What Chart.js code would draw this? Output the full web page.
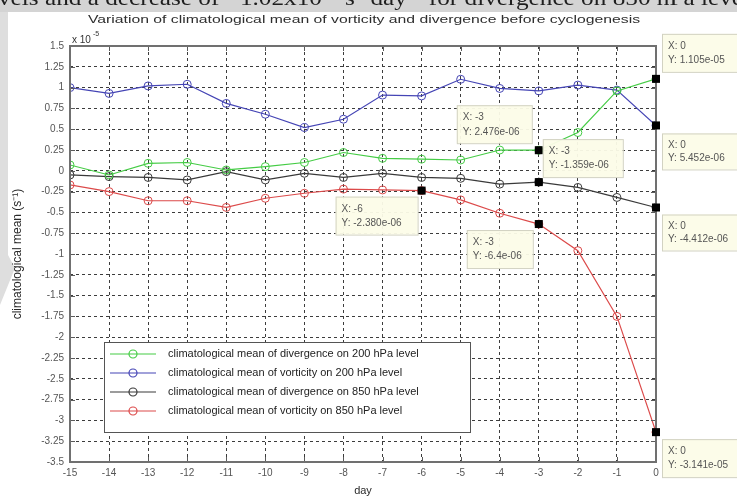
<!DOCTYPE html>
<html>
<head>
<meta charset="utf-8">
<script src="https://cdn.jsdelivr.net/npm/chart.js@4/dist/chart.umd.min.js"></script>
<style>
  html, body { margin: 0; padding: 0; background: #ffffff; }
  canvas { display: block; filter: blur(0.45px); }
</style>
</head>
<body>
<canvas id="chart" width="737" height="500"></canvas>
<script>
// Days before cyclogenesis (day 0 = genesis)
const days = [-15, -14, -13, -12, -11, -10, -9, -8, -7, -6, -5, -4, -3, -2, -1, 0];

// Climatological means, in units of 1e-5 s^-1
const div200  = [0.07, -0.05, 0.09, 0.10, 0.01, 0.05, 0.10, 0.22, 0.15, 0.14, 0.13, 0.25, 0.2476, 0.46, 0.96, 1.105];
const vort200 = [1.00, 0.93, 1.02, 1.04, 0.81, 0.68, 0.52, 0.62, 0.91, 0.90, 1.10, 0.99, 0.96, 1.03, 0.97, 0.5452];
const div850  = [-0.05, -0.07, -0.08, -0.11, -0.01, -0.11, -0.03, -0.08, -0.03, -0.08, -0.09, -0.16, -0.1359, -0.20, -0.32, -0.4412];
const vort850 = [-0.17, -0.25, -0.36, -0.36, -0.44, -0.33, -0.27, -0.22, -0.23, -0.238, -0.35, -0.51, -0.64, -0.96, -1.75, -3.141];

const seriesLabels = [
  'climatological mean of divergence on 200 hPa level',
  'climatological mean of vorticity on 200 hPa level',
  'climatological mean of divergence on 850 hPa level',
  'climatological mean of vorticity on 850 hPa level'
];

const yTickValues = [1.5, 1.25, 1, 0.75, 0.5, 0.25, 0, -0.25, -0.5, -0.75, -1, -1.25, -1.5, -1.75, -2, -2.25, -2.5, -2.75, -3, -3.25, -3.5];

// Data cursors: series index, day, decimals shown
const dataTips = [
  { series: 0, day: 0,  digits: 3 },
  { series: 1, day: 0,  digits: 3 },
  { series: 2, day: 0,  digits: 3 },
  { series: 3, day: 0,  digits: 3 },
  { series: 0, day: -3, digits: 3 },
  { series: 2, day: -3, digits: 3 },
  { series: 3, day: -6, digits: 3 },
  { series: 3, day: -3, digits: 1 }
];

const seriesValues = [div200, vort200, div850, vort850];
const seriesColors = ['#45cc45', '#4545b5', '#3a3a3a', '#dc4a4a'];

// Where each cursor box sits relative to its marked point
const tipBoxOffsets = [
  { dx: 6,   dy: -45, w: 80, h: 38 },
  { dx: 6,   dy: 8,   w: 80, h: 36 },
  { dx: 6,   dy: 7,   w: 80, h: 36 },
  { dx: 6,   dy: 7,   w: 80, h: 38 },
  { dx: -82, dy: -45, w: 75, h: 38 },
  { dx: 4,   dy: -43, w: 80, h: 38 },
  { dx: -86, dy: 6,   w: 82, h: 38 },
  { dx: -72, dy: 6,   w: 66, h: 38 }
];

function sciText(v, digits) {
  const s = (v * 1e-5).toExponential(digits);
  const m = s.match(/^(-?[\d.]+)e([+-])(\d+)$/);
  const exp = m[3].length < 2 ? '0' + m[3] : m[3];
  return m[1] + 'e' + m[2] + exp;
}

const FONT = '"Liberation Sans", Arial, sans-serif';

const pageDecor = {
  id: 'pageDecor',
  beforeDraw(chart) {
    const ctx = chart.ctx;
    ctx.save();
    ctx.fillStyle = '#ffffff';
    ctx.fillRect(0, 0, chart.width, chart.height);
    // grey band with running text from the page above
    ctx.fillStyle = '#d4d4d4';
    ctx.fillRect(0, 0, chart.width, 12);
    ctx.beginPath();
    ctx.moveTo(0, 12); ctx.lineTo(8, 12); ctx.lineTo(8, 255); ctx.lineTo(15, 268); ctx.lineTo(0, 305);
    ctx.closePath();
    ctx.fillStyle = '#dedede';
    ctx.fill();
    ctx.fillStyle = '#1e1e1e';
    ctx.font = '22px "Liberation Serif", "Times New Roman", serif';
    ctx.textBaseline = 'alphabetic';
    const runText = 'vels and a decrease of \u22121.02x10\u207B\u2076 s\u207B\u00B9day\u207B\u00B9 for divergence on 850 hPa leve';
    const w = ctx.measureText(runText).width;
    ctx.translate(-2, 5);
    ctx.scale(745 / w, 1);
    ctx.fillText(runText, 0, 0);
    ctx.restore();
  },
  afterDraw(chart) {
    const ctx = chart.ctx;
    const a = chart.chartArea;
    ctx.save();
    // title
    ctx.fillStyle = '#2e2e2e';
    ctx.font = '11px ' + FONT;
    ctx.textAlign = 'center';
    ctx.textBaseline = 'middle';
    const title = 'Variation of climatological mean of vorticity and divergence before cyclogenesis';
    const tw = ctx.measureText(title).width;
    ctx.save();
    ctx.translate(364, 20);
    ctx.scale(552 / tw, 1);
    ctx.fillText(title, 0, 0);
    ctx.restore();
    // exponent label
    ctx.textAlign = 'left';
    ctx.textBaseline = 'alphabetic';
    ctx.font = '10px ' + FONT;
    ctx.fillStyle = '#333';
    ctx.fillText('x 10', a.left + 2, a.top - 3);
    ctx.font = '7px ' + FONT;
    ctx.fillText('-5', a.left + 23, a.top - 10);
    // axis titles
    ctx.font = '11px ' + FONT;
    ctx.fillStyle = '#2a2a2a';
    ctx.textAlign = 'center';
    ctx.textBaseline = 'middle';
    ctx.fillText('day', (a.left + a.right) / 2, 491);
    ctx.font = '12px ' + FONT;
    ctx.save();
    ctx.translate(18, (a.top + a.bottom) / 2);
    ctx.rotate(-Math.PI / 2);
    ctx.fillText('climatological mean (s\u207B\u00B9)', 0, 0);
    ctx.restore();
    ctx.restore();
  }
};

const axesFrame = {
  id: 'axesFrame',
  afterDatasetsDraw(chart) {
    const ctx = chart.ctx;
    const a = chart.chartArea;
    const xs = chart.scales.x, ys = chart.scales.y;
    ctx.save();
    ctx.strokeStyle = '#5a5a5a';
    ctx.lineWidth = 1;
    ctx.beginPath();
    xs.ticks.forEach(t => {
      const px = Math.round(xs.getPixelForValue(t.value)) + 0.5;
      ctx.moveTo(px, a.bottom); ctx.lineTo(px, a.bottom - 5);
      ctx.moveTo(px, a.top); ctx.lineTo(px, a.top + 5);
    });
    ys.ticks.forEach(t => {
      const py = Math.round(ys.getPixelForValue(t.value)) + 0.5;
      ctx.moveTo(a.left, py); ctx.lineTo(a.left + 5, py);
      ctx.moveTo(a.right, py); ctx.lineTo(a.right - 5, py);
    });
    ctx.stroke();
    ctx.lineWidth = 2;
    ctx.strokeStyle = '#707070';
    ctx.strokeRect(a.left, a.top, a.right - a.left, a.bottom - a.top);

    // data cursors
    dataTips.forEach((tip, i) => {
      const idx = days.indexOf(tip.day);
      const v = seriesValues[tip.series][idx];
      const px = xs.getPixelForValue(tip.day);
      const py = ys.getPixelForValue(v);
      const o = tipBoxOffsets[i];
      const bx = px + o.dx, by = py + o.dy;
      ctx.fillStyle = 'rgba(252,252,232,0.95)';
      ctx.fillRect(bx, by, o.w, o.h);
      ctx.strokeStyle = '#d2d2c2';
      ctx.lineWidth = 1;
      ctx.strokeRect(bx + 0.5, by + 0.5, o.w, o.h);
      ctx.fillStyle = '#555';
      ctx.font = '10px ' + FONT;
      ctx.textAlign = 'left';
      ctx.textBaseline = 'middle';
      ctx.fillText('X: ' + tip.day, bx + 6, by + o.h * 0.32);
      ctx.fillText('Y: ' + sciText(v, tip.digits), bx + 6, by + o.h * 0.7);
      ctx.fillStyle = '#000';
      ctx.fillRect(px - 4, py - 4, 8, 8);
    });

    // legend
    const lx = 104, ly = 342, lw = 366, lh = 90;
    ctx.fillStyle = '#ffffff';
    ctx.fillRect(lx, ly, lw, lh);
    ctx.strokeStyle = '#555';
    ctx.lineWidth = 1;
    ctx.strokeRect(lx + 0.5, ly + 0.5, lw, lh);
    chart.data.datasets.forEach((ds, i) => {
      const ry = ly + 12 + i * 19;
      ctx.strokeStyle = ds.borderColor;
      ctx.lineWidth = 1.2;
      ctx.beginPath();
      ctx.moveTo(lx + 6, ry); ctx.lineTo(lx + 52, ry);
      ctx.stroke();
      ctx.beginPath();
      ctx.arc(lx + 29, ry, 4, 0, Math.PI * 2);
      ctx.stroke();
      ctx.fillStyle = '#222';
      ctx.font = '11px ' + FONT;
      ctx.textAlign = 'left';
      ctx.textBaseline = 'middle';
      ctx.fillText(ds.label, lx + 64, ry);
    });
    ctx.restore();
  }
};

const datasets = seriesValues.map((vals, i) => ({
  label: seriesLabels[i],
  data: days.map((d, j) => ({ x: d, y: vals[j] })),
  borderColor: seriesColors[i],
  backgroundColor: 'rgba(255,255,255,0)',
  borderWidth: 1.2,
  pointRadius: 4,
  pointBorderWidth: 1,
  pointStyle: 'circle',
  tension: 0
}));

new Chart(document.getElementById('chart'), {
  type: 'line',
  data: { datasets },
  options: {
    responsive: false,
    animation: false,
    devicePixelRatio: 1,
    layout: { padding: { top: 46, right: 81, left: 0, bottom: 0 } },
    plugins: { legend: { display: false }, tooltip: { enabled: false }, title: { display: false } },
    scales: {
      x: {
        type: 'linear',
        min: -15, max: 0,
        afterFit(scale) { scale.height = 38; },
        afterBuildTicks(scale) { scale.ticks = days.map(d => ({ value: d })); },
        ticks: { color: '#555', font: { family: FONT, size: 10 }, padding: 5, autoSkip: false, maxRotation: 0,
                 callback: v => String(v) },
        grid: { color: '#3c3c3c', lineWidth: 1, drawTicks: false },
        border: { display: false, dash: [3, 3] }
      },
      y: {
        type: 'linear',
        min: -3.5, max: 1.5,
        afterFit(scale) { scale.width = 70; },
        afterBuildTicks(scale) { scale.ticks = yTickValues.map(v => ({ value: v })); },
        ticks: { color: '#555', font: { family: FONT, size: 10 }, padding: 6, autoSkip: false,
                 callback: v => String(Number(v.toFixed(2)) || 0) },
        grid: { color: '#3c3c3c', lineWidth: 1, drawTicks: false },
        border: { display: false, dash: [3, 3] }
      }
    }
  },
  plugins: [pageDecor, axesFrame]
});
</script>
</body>
</html>
